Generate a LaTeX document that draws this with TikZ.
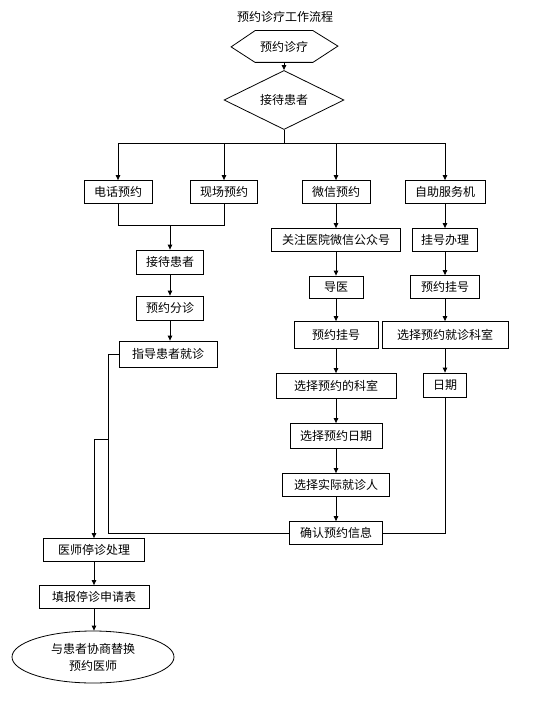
\documentclass[tikz,border=0pt]{standalone}
\usepackage{fontspec}
\newfontfamily\cjk{Noto Sans CJK SC}
\usetikzlibrary{arrows.meta}
\usetikzlibrary{shapes.geometric}

\begin{document}
\begin{tikzpicture}[x=1pt,y=-1pt,font=\cjk\fontsize{12}{17}\selectfont,line width=0.8pt,
        box/.style={draw,rectangle,inner sep=0pt,minimum height=23pt},
        arr/.style={-{Triangle[length=5pt,width=4.5pt]}}]
    \useasboundingbox (0,0) rectangle (535,706);
    \node (title) at (285,17) {预约诊疗工作流程};
    \node[minimum width=57pt,minimum height=31pt,inner sep=0pt] (hex) at (284,46.5) {预约诊疗};
    \draw (hex.north west) -- (hex.north east) -- ++(25,15.5) -- (hex.south east) -- (hex.south west) -- ++(-24,-15.5) -- cycle;
    \node[draw,diamond,inner sep=0pt,minimum width=120pt,minimum height=47pt] (recv) at (284,100) {接待患者};
    \draw[arr] (hex) -- (recv);
    \coordinate (split) at (284,143);
    \draw (recv) -- (split);

    \node[box,minimum width=68pt] (phone) at (118,192) {电话预约};
    \node[box,minimum width=67pt] (onsite) at (224,192) {现场预约};
    \node[box,minimum width=68pt] (wechat) at (336,192) {微信预约};
    \node[box,minimum width=80pt] (kiosk) at (445,192) {自助服务机};
    \draw (split -| phone) -- (split -| kiosk);
    \foreach \n in {phone,onsite,wechat,kiosk}
        \draw[arr] (split -| \n) -- (\n);

    \coordinate (merge) at (170,225);
    \draw (phone) -- (phone |- merge) -- (onsite |- merge) -- (onsite);
    \node[box,minimum width=67pt,minimum height=24pt] (recv2) at (170,262) {接待患者};
    \node[box,minimum width=67pt,minimum height=24pt] (triage) at (170,308) {预约分诊};
    \node[box,minimum width=98pt,minimum height=26pt] (guide) at (168,354) {指导患者就诊};
    \draw[arr] (merge) -- (recv2);
    \draw[arr] (recv2) -- (triage);
    \draw[arr] (triage.south) -- (triage.south |- guide.north);

    \node[box,minimum width=129pt] (follow) at (336,240) {关注医院微信公众号};
    \node[box,minimum width=54pt,minimum height=22pt] (usher) at (336,287) {导医};
    \node[box,minimum width=84pt,minimum height=27pt] (wreg) at (336,335) {预约挂号};
    \node[box,minimum width=120pt,minimum height=25pt] (wdept) at (336,386) {选择预约的科室};
    \node[box,minimum width=92pt,minimum height=25pt] (wdate) at (336,436) {选择预约日期};
    \node[box,minimum width=107pt] (wwho) at (336,485) {选择实际就诊人};
    \node[box,minimum width=93pt] (confirm) at (336,533) {确认预约信息};
    \foreach \a/\b in {wechat/follow,follow/usher,usher/wreg,wreg/wdept,wdept/wdate,wdate/wwho,wwho/confirm}
        \draw[arr] (\a) -- (\b);

    \node[box,minimum width=65pt] (handle) at (445,240) {挂号办理};
    \node[box,minimum width=69pt] (kreg) at (445,287) {预约挂号};
    \node[box,minimum width=126pt,minimum height=27pt] (kdept) at (445,335) {选择预约就诊科室};
    \node[box,minimum width=43pt,minimum height=24pt] (kdate) at (445,385) {日期};
    \foreach \a/\b in {kiosk/handle,handle/kreg,kreg/kdept,kdept/kdate}
        \draw[arr] (\a) -- (\b);
    \draw (kdate) -- (kdate |- confirm) -- (confirm);

    \draw (guide.west) -- ++(-10,0) coordinate (loop) -- (loop |- confirm) -- (confirm);
    \coordinate (branch) at (loop |- 0,439);
    \node[box,minimum width=101pt] (stop) at (94,550) {医师停诊处理};
    \node[box,minimum width=110pt] (report) at (94,597) {填报停诊申请表};
    \node[draw,ellipse,inner sep=0pt,minimum width=162pt,minimum height=52pt,align=center] (swap) at (93,657) {与患者协商替换\\预约医师};
    \draw[arr] (branch) -- (branch -| stop) -- (stop);
    \draw[arr] (stop) -- (report);
    \draw[arr] (report) -- (report |- swap.north);
\end{tikzpicture}
\end{document}
